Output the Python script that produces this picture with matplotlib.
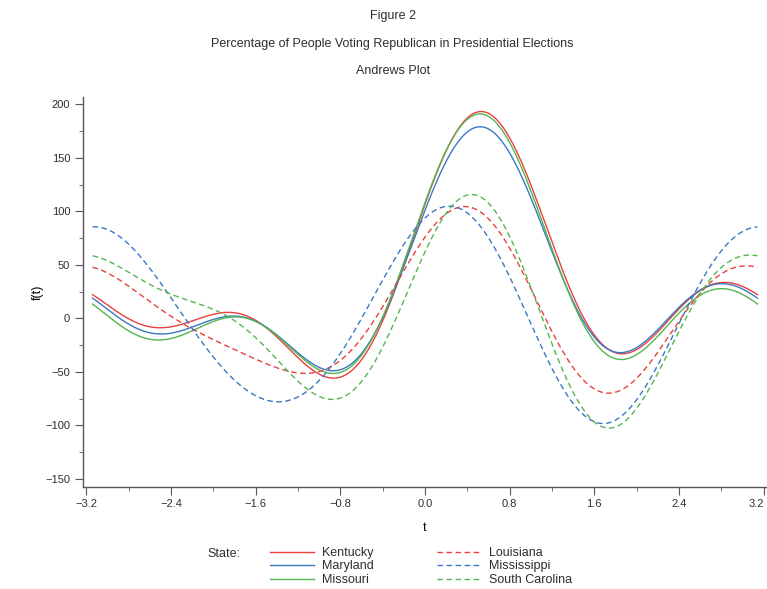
import numpy as np
import matplotlib
matplotlib.use("Agg")
import matplotlib.pyplot as plt
from matplotlib.ticker import MultipleLocator, FuncFormatter

plt.rcParams["font.family"] = ["Liberation Sans", "DejaVu Sans"]
plt.rcParams["text.color"] = "#2e2e2e"

# percent of vote for the Republican candidate, by election year
states = ["Kentucky", "Maryland", "Missouri", "Louisiana", "Mississippi", "South Carolina"]
year1932 = [40.15, 36.04, 35.08, 7.03, 3.55, 1.89]
year1936 = [39.92, 37.04, 38.16, 11.16, 2.74, 1.43]
year1940 = [42.30, 41.17, 47.50, 14.09, 4.19, 1.86]
year1960 = [53.59, 46.39, 49.74, 28.59, 24.67, 48.76]
year1964 = [36.0, 34.5, 36.0, 56.8, 87.1, 58.9]
year1968 = [43.8, 41.9, 44.9, 23.5, 13.5, 38.1]

colors = ["#e8413c", "#3a78c4", "#55b550", "#e8413c", "#3a78c4", "#55b550"]
styles = ["-", "-", "-", "--", "--", "--"]


def andrews(x, t):
    # f(t) = x1/sqrt(2) + x2 sin t + x3 cos t + x4 sin 2t + x5 cos 2t + ...
    f = np.full_like(t, x[0] / np.sqrt(2))
    for i, v in enumerate(x[1:]):
        h = i // 2 + 1
        f += v * (np.sin(h * t) if i % 2 == 0 else np.cos(h * t))
    return f


def minus(s):
    return s.replace("-", "\u2212")


X = np.column_stack([year1932, year1936, year1940, year1960, year1964, year1968])
t = np.linspace(-np.pi, np.pi, 400)

fig = plt.figure(figsize=(7.67, 5.89), dpi=100)
ax = fig.add_axes([0.1078, 0.1737, 0.891, 0.6616])

lines = []
for row, c, ls in zip(X, colors, styles):
    ln, = ax.plot(t, andrews(row, t), color=c, lw=1.0, ls=ls)
    if ls == "--":
        ln.set_dashes((4, 2.5))
    lines.append(ln)

ax.set_xlim(-3.235, 3.223)
ax.set_ylim(-157.4, 206.8)

xt = np.round(np.arange(-3.2, 3.21, 0.8), 1) + 0.0
ax.set_xticks(xt, [minus(f"{v:.1f}") for v in xt])
ax.get_xticklabels()[-1].set_horizontalalignment("right")
ax.xaxis.set_minor_locator(MultipleLocator(0.4))
ax.yaxis.set_major_locator(MultipleLocator(50))
ax.yaxis.set_minor_locator(MultipleLocator(25))
ax.yaxis.set_major_formatter(FuncFormatter(lambda v, p: minus(f"{v:.0f}")))

for s in ["top", "right"]:
    ax.spines[s].set_visible(False)
for s in ["left", "bottom"]:
    ax.spines[s].set_color("#5a5458")
    ax.spines[s].set_linewidth(1.0)
ax.tick_params(which="both", direction="out", colors="#5a5458", labelcolor="#2e2e2e", labelsize=8)
ax.tick_params(which="major", length=6, pad=3)
ax.tick_params(which="minor", length=3)

ax.set_xlabel("t", fontsize=9)
ax.set_ylabel("f(t)", fontsize=9)
ax.xaxis.set_label_coords(0.5, -0.106)
ax.yaxis.set_label_coords(-0.065, 0.5)
ax.xaxis.label.set_va("center")
ax.yaxis.label.set_va("center")

fig.text(0.512, 1 - 16 / 589, "Figure 2", ha="center", va="center", fontsize=9)
fig.text(0.512, 1 - 44 / 589, "Percentage of People Voting Republican in Presidential Elections",
         ha="center", va="center", fontsize=9)
fig.text(0.512, 1 - 71 / 589, "Andrews Plot", ha="center", va="center", fontsize=9)

fig.text(207 / 767, 1 - 554 / 589, "State:", ha="left", va="center", fontsize=9)
fig.legend(handles=lines, labels=states, ncol=2, loc="upper left",
           bbox_to_anchor=(270 / 767, 1 - 547 / 589), frameon=False, fontsize=9,
           handlelength=3.5, handletextpad=0.65, columnspacing=5.1,
           labelspacing=0.12, borderpad=0, borderaxespad=0)

fig.savefig("out.png", dpi=100)
